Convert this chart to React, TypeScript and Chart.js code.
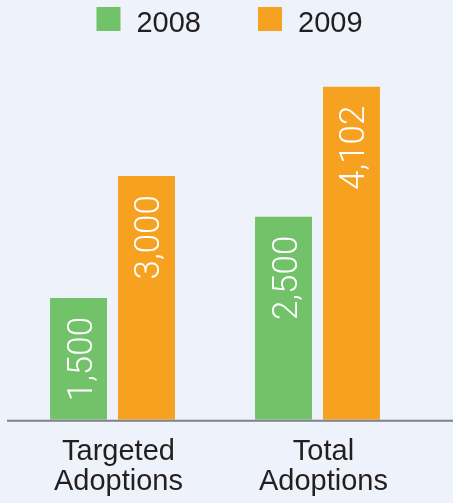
import React, { useEffect, useRef } from "react";
import { Chart, registerables } from "chart.js";

Chart.register(...registerables);

const categories = [["Targeted", "Adoptions"], ["Total", "Adoptions"]];
const seriesNames = ["2008", "2009"];
const values2008 = [1500, 2500];
const values2009 = [3000, 4102];
const seriesColors = ["#72c269", "#f6a11f"];

const BG = "#eef2fa";
const TEXT = "#231f20";
const FONT_FAMILY = '"Liberation Sans", Arial, Helvetica, sans-serif';

const legendPlugin = {
  id: "topLegend",
  afterDraw(chart: any) {
    const ctx = chart.ctx;
    ctx.save();
    ctx.font = `29px ${FONT_FAMILY}`;
    const box = 24;
    const gap = 16;
    const spacing = 57;
    const items = chart.data.datasets.map((ds: any) => ({
      label: ds.label,
      color: ds.backgroundColor,
      w: ctx.measureText(ds.label).width,
    }));
    const total =
      items.reduce((s: number, it: any) => s + box + gap + it.w, 0) +
      spacing * (items.length - 1);
    let x = (chart.width - total) / 2 + 3;
    const top = 7;
    items.forEach((it: any) => {
      ctx.fillStyle = it.color;
      ctx.fillRect(x, top, box, box);
      ctx.fillStyle = TEXT;
      ctx.textAlign = "left";
      ctx.textBaseline = "alphabetic";
      ctx.fillText(it.label, x + box + gap, top + box + 0.7);
      x += box + gap + it.w + spacing;
    });
    ctx.restore();
  },
};

const valueLabelPlugin = {
  id: "valueLabels",
  afterDatasetsDraw(chart: any) {
    const ctx = chart.ctx;
    chart.data.datasets.forEach((ds: any, di: number) => {
      const meta = chart.getDatasetMeta(di);
      meta.data.forEach((bar: any, i: number) => {
        const txt = Number(ds.data[i]).toLocaleString("en-US");
        ctx.save();
        ctx.font = `300 35px Roboto, ${FONT_FAMILY}`;
        ctx.fillStyle = "#ffffff";
        ctx.translate(bar.x + 13, bar.y + 19);
        ctx.rotate(-Math.PI / 2);
        ctx.textAlign = "right";
        ctx.textBaseline = "alphabetic";
        ctx.fillText(txt, 0, 0);
        ctx.restore();
      });
    });
  },
};

const baselinePlugin = {
  id: "baseline",
  afterDatasetsDraw(chart: any) {
    const ctx = chart.ctx;
    const y = chart.scales.y.getPixelForValue(0) + 1;
    ctx.save();
    ctx.strokeStyle = "#7e8186";
    ctx.lineWidth = 2;
    ctx.beginPath();
    ctx.moveTo(7, y);
    ctx.lineTo(chart.width, y);
    ctx.stroke();
    ctx.restore();
  },
};

export default function App() {
  const canvasRef = useRef<HTMLCanvasElement | null>(null);

  useEffect(() => {
    if (!canvasRef.current) return;
    const chart = new Chart(canvasRef.current, {
      type: "bar",
      data: {
        labels: categories,
        datasets: [
          {
            label: seriesNames[0],
            data: values2008,
            backgroundColor: seriesColors[0],
            borderWidth: 0,
          },
          {
            label: seriesNames[1],
            data: values2009,
            backgroundColor: seriesColors[1],
            borderWidth: 0,
          },
        ],
      },
      options: {
        animation: false,
        responsive: false,
        devicePixelRatio: 1,
        layout: { padding: { left: 10, right: 33, top: 60, bottom: -11 } },
        datasets: {
          bar: { barPercentage: 0.838, categoryPercentage: 0.663 },
        },
        plugins: {
          legend: { display: false },
          tooltip: { enabled: false },
        },
        scales: {
          x: {
            grid: { display: false, drawTicks: false },
            border: { display: false },
            ticks: {
              color: TEXT,
              font: { family: FONT_FAMILY, size: 29, lineHeight: 1.04 },
              padding: 17,
              labelOffset: 6,
              maxRotation: 0,
              autoSkip: false,
            },
          },
          y: {
            display: false,
            min: 0,
            max: 4430,
          },
        },
      },
      plugins: [valueLabelPlugin, baselinePlugin, legendPlugin],
    });
    return () => chart.destroy();
  }, []);

  return (
    <div
      style={{
        position: "fixed",
        left: 0,
        top: 0,
        width: 453,
        height: 503,
        background: BG,
      }}
    >
      <canvas ref={canvasRef} width={453} height={503} style={{ display: "block" }} />
    </div>
  );
}
